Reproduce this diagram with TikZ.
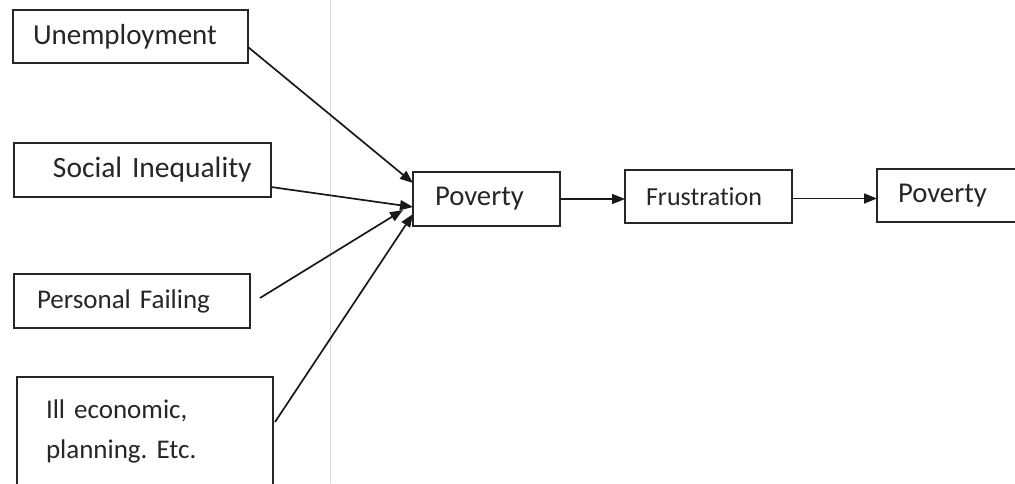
\documentclass[tikz,border=0pt]{standalone}
\usepackage{fontspec}
\setmainfont{Carlito}[Ligatures={NoCommon}]
\usetikzlibrary{arrows.meta}
\frenchspacing
\begin{document}
\begin{tikzpicture}[x=1pt,y=1pt,
  box/.style={draw=black!85, line width=1.8pt, rectangle, align=left, inner ysep=0pt, inner xsep=0pt, outer sep=0pt, anchor=north west, text=black!85},
  conn/.style={draw=black!90, line width=1.7pt, -{Triangle[length=13pt,width=10pt]}}]
\useasboundingbox (0,0) rectangle (1015,-483);
\fill[white] (0,0) rectangle (1015,-483);
\draw[gray!30, line width=0.8pt] (330,0) -- (330,-483);
\node[box, minimum height=53pt, text width=235pt, font=\fontsize{29}{34}\selectfont] (u) at (13,-10) {\hspace*{20pt}Unemployment};
\node[box, minimum height=54pt, text width=257pt, font=\fontsize{29.5}{34}\selectfont] (s) at (14,-143) {\hspace*{39pt}Social Inequality};
\node[box, minimum height=54pt, text width=236pt, font=\fontsize{27}{32}\selectfont] (pf) at (14,-274) {\hspace*{23pt}Personal Failing};
\node[box, minimum height=108pt, text width=256pt, font=\fontsize{27}{40}\selectfont] (ill) at (17,-377) {\hspace*{29pt}Ill economic,\\\hspace*{29pt}planning. Etc.};
\node[box, minimum height=54pt, text width=147pt, font=\fontsize{28.7}{34}\selectfont] (p1) at (413,-172) {\hspace*{22pt}Poverty};
\node[box, minimum height=53pt, text width=167pt, font=\fontsize{26}{31}\selectfont] (fr) at (625,-170) {\hspace*{21pt}Frustration};
\node[box, minimum height=53pt, text width=150pt, font=\fontsize{28.7}{34}\selectfont] (p2) at (877,-169) {\hspace*{21pt}Poverty};
\draw[conn] ([yshift=-10.5pt]u.east) -- ([yshift=16pt]p1.west);
\draw[conn] ([yshift=-17pt]s.east) -- ([yshift=-8pt]p1.west);
\draw[conn] ([xshift=10pt,yshift=3pt]pf.east) -- ([xshift=-10pt,yshift=-11pt]p1.west);
\draw[conn] ([xshift=2pt,yshift=9pt]ill.east) -- ([yshift=-15pt]p1.west);
\draw[conn] (p1.east) -- (p1.east -| fr.west);
\draw[conn] ([yshift=-2pt]fr.east) -- ([yshift=-2pt]fr.east -| p2.west);
\end{tikzpicture}
\end{document}
